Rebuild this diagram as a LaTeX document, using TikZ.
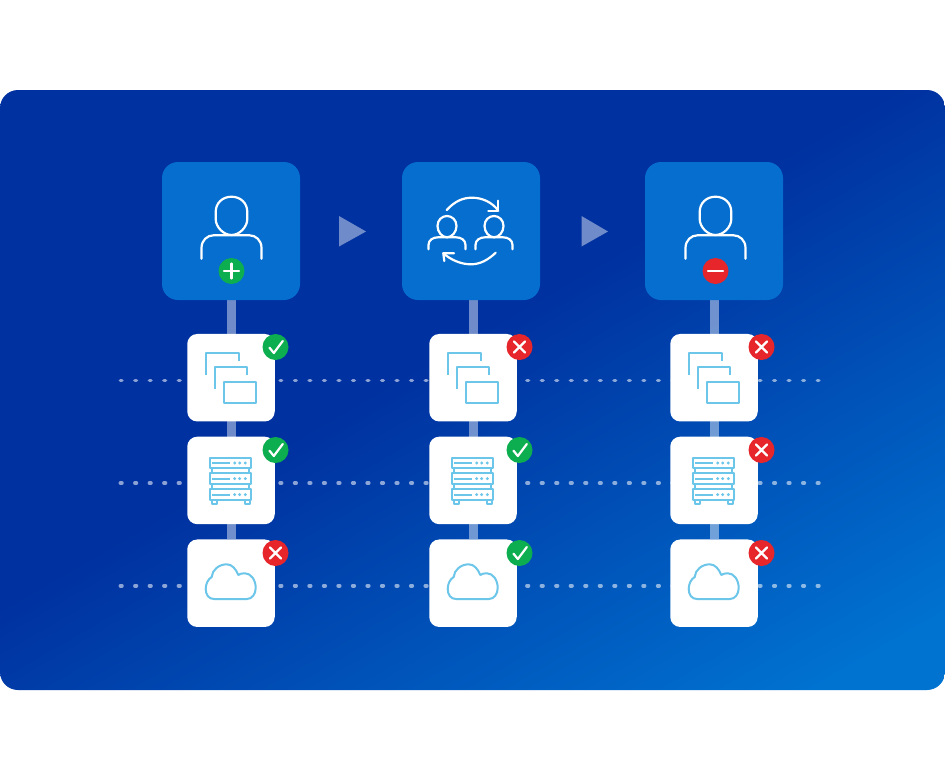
\documentclass[tikz,border=0pt]{standalone}
\usepackage{xcolor}
\usepackage{tikz}
\usetikzlibrary{backgrounds}
\definecolor{panelmid}{HTML}{0031A0}
\definecolor{panelend}{HTML}{0072D0}
\definecolor{tile}{HTML}{066ECE}
\definecolor{iconblue}{HTML}{6CC6EA}
\definecolor{good}{HTML}{0DAE4F}
\definecolor{bad}{HTML}{E6262B}
\pgfdeclarehorizontalshading{panelfade}{100bp}{
  color(0bp)=(panelmid); color(48bp)=(panelmid);
  color(68bp)=(panelend); color(100bp)=(panelend)}
\tikzset{
  usertile/.style={fill=tile, rounded corners=16pt, minimum size=138pt, inner sep=0pt, outer sep=0pt},
  card/.style={fill=white, rounded corners=10pt, minimum size=87.5pt, inner sep=0pt, outer sep=0pt},
  stem/.style={draw=white, draw opacity=.44, line width=9pt},
  row/.style={draw=white, draw opacity=.55, line width=3.7pt, line cap=round, dash pattern=on 1.5pt off 13.02pt},
  nextarrow/.style={fill=white, fill opacity=.44},
  line/.style={draw=white, line width=2.2pt, line cap=round, line join=round},
  icon/.style={draw=iconblue, line width=2pt, line join=round},
  tickline/.style={draw=white, line width=2.2pt, line cap=round, line join=round},
  person/.pic={
    \draw[line] (-15.8,-19) .. controls (-15.8,-28) and (-9,-34.3) .. (0,-34.3)
      .. controls (9,-34.3) and (15.8,-28) .. (15.8,-19) -- (15.8,-12)
      .. controls (15.8,-4) and (8,4) .. (0,4) .. controls (-8,4) and (-15.8,-4) .. (-15.8,-12) -- cycle;
    \draw[line] (-30,27.7) -- (-30,17) .. controls (-30,9) and (-24,4.3) .. (-18,4.3) -- (18,4.3)
      .. controls (24,4.3) and (30,9) .. (30,17) -- (30,27.7);
  },
  buddy/.pic={
    \draw[line] (-9.5,-5) .. controls (-9.5,-11) and (-5,-15) .. (0,-15)
      .. controls (5,-15) and (9.5,-11) .. (9.5,-5)
      .. controls (9.5,1) and (5,6.3) .. (0,6.3) .. controls (-5,6.3) and (-9.5,1) .. (-9.5,-5) -- cycle;
    \draw[line] (-18.5,18.3) -- (-18.5,14) .. controls (-18.5,9) and (-14,6.3) .. (-9,6.3) -- (9,6.3)
      .. controls (14,6.3) and (18.5,9) .. (18.5,14) -- (18.5,18.3);
  },
  swap/.pic={
    \pic at (-24,0) {buddy};
    \pic at (23,0) {buddy};
    \draw[line] (-24.3,-21) .. controls (-16,-30) and (-8,-33.3) .. (1,-33.3)
      .. controls (11,-33.3) and (21,-29) .. (27.3,-20.3);
    \draw[line] (17.3,-20.3) -- (27.3,-20.3) -- (27.3,-30.3);
    \draw[line] (24.7,21.7) .. controls (17,29) and (9,33.3) .. (0,33.3)
      .. controls (-10,33.3) and (-20,29) .. (-27.7,22.3);
    \draw[line] (-17,22.3) -- (-27.7,22.3) -- (-26.7,30);
  },
  windows/.pic={
    \draw[icon] (8,-17) -- (8,-25) -- (-25,-25) -- (-25,-3);
    \draw[icon] (16,-3) -- (16,-11) -- (-16,-11) -- (-16,11);
    \draw[icon] (-7,4) rectangle (25,25);
  },
  rack/.pic={
    \foreach \ry in {-23.3,-7.7,8.3}{
      \draw[icon] (-21.3,\ry) rectangle (20.3,\ry+10.7);
      \draw[icon] (-19,\ry+5.3) -- (-1.3,\ry+5.3);
      \foreach \rx in {3.7,8.7,14.3}
        \fill[iconblue] (\rx,\ry+5.3) circle (1.6);
    }
    \draw[icon] (-19,-12.6) -- (-19,-7.7) (18,-12.6) -- (18,-7.7);
    \draw[icon] (-19,3) -- (-19,8.3) (18,3) -- (18,8.3);
    \draw[icon] (-19.5,19) rectangle (-14.5,23);
    \draw[icon] (13.5,19) rectangle (18.5,23);
  },
  cloud/.pic={
    \draw[icon] (-17,15) .. controls (-22,15) and (-25.3,11) .. (-25.3,5)
      .. controls (-25.3,0) and (-23,-5) .. (-19.3,-7)
      .. controls (-19,-14) and (-12,-19.7) .. (-4.3,-19.7)
      .. controls (1,-19.7) and (5,-15) .. (7.3,-9)
      .. controls (9,-10.5) and (11.5,-10.7) .. (14,-10.7)
      .. controls (20,-10.7) and (24.7,-4) .. (24.7,4)
      .. controls (24.7,10) and (21,15) .. (16,15) -- cycle;
  },
  okbadge/.pic={
    \fill[good] (0,0) circle (13);
    \draw[tickline] (-6,0.7) -- (-1.7,6) -- (7.3,-6);
  },
  nobadge/.pic={
    \fill[bad] (0,0) circle (13);
    \draw[tickline] (-5.5,-5.5) -- (5.5,5.5) (-5.5,5.5) -- (5.5,-5.5);
  },
  addbadge/.pic={
    \fill[good] (0,0) circle (13);
    \draw[tickline] (-7.5,0) -- (7.5,0) (0,-7.5) -- (0,7.5);
  },
  dropbadge/.pic={
    \fill[bad] (0,0) circle (13);
    \draw[tickline] (-7.5,0) -- (7.5,0);
  },
}

\begin{document}
\begin{tikzpicture}[x=1pt,y=-1pt]
  \useasboundingbox (0,0) rectangle (945,780);
  \begin{scope}[on background layer]
    \fill[white] (0,0) rectangle (945,780);
    \begin{scope}
      \clip[rounded corners=18pt] (0,90) rectangle (945,690);
      \path[shading=panelfade, shading angle=-60] (-127.5,-210) rectangle (1072.5,990);
    \end{scope}
  \end{scope}
  \foreach \n/\cx in {1/231,2/471,3/714}
    \node[usertile] (user\n) at (\cx,231) {};
  \foreach \n/\cx in {1/231,2/473,3/714}{
    \node[card] (win\n) at (\cx,377.7) {};
    \node[card] (rack\n) at (\cx,480.4) {};
    \node[card] (cloud\n) at (\cx,583.2) {};
    \pic at (\cx,378) {windows};
    \pic at (\cx,481) {rack};
    \pic at (\cx,584) {cloud};
  }
  \coordinate (rowa) at (120.4,380.5);
  \coordinate (rowb) at (120.4,483);
  \coordinate (rowc) at (120.4,585.7);
  \coordinate (enda) at (820,380.5);
  \coordinate (endb) at (820,483);
  \coordinate (endc) at (820,585.7);
  \begin{scope}[on background layer]
    \draw[row] (rowa) -- (enda);
    \draw[row] (rowb) -- (endb);
    \draw[row] (rowc) -- (endc);
    \foreach \n in {1,2,3}{
      \draw[stem] (win\n |- user\n.south) -- (win\n);
      \draw[stem] (win\n) -- (rack\n);
      \draw[stem] (rack\n) -- (cloud\n);
    }
  \end{scope}
  \fill[nextarrow] (339,216) -- (366,231.5) -- (339,246.5) -- cycle;
  \fill[nextarrow] (581.5,216) -- (608,231.5) -- (581.5,246.5) -- cycle;
  \pic at (231.5,231) {person};
  \pic at (715.5,231) {person};
  \pic at (471,231) {swap};
  \pic at (231.5,271) {addbadge};
  \pic at (715.5,271) {dropbadge};
  \foreach \bx/\by/\kind in {275.5/347/ok,275.5/450/ok,275.5/553/no,
      519.5/347/no,519.5/450/ok,519.5/553/ok,
      761.5/347/no,761.5/450/no,761.5/553/no}
    \pic at (\bx,\by) {\kind badge};
\end{tikzpicture}
\end{document}
